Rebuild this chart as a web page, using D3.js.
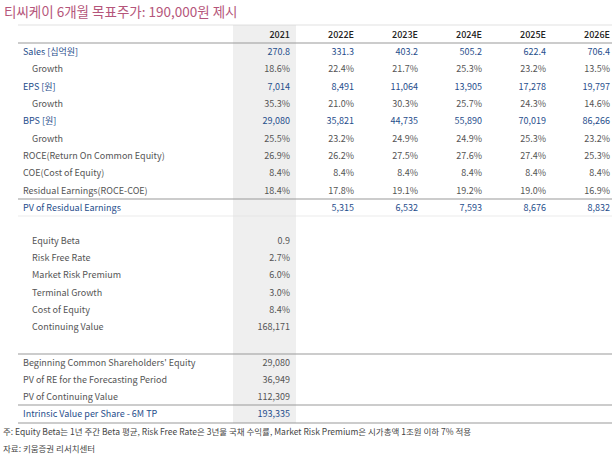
<!DOCTYPE html>
<html><head><meta charset="utf-8">
<script src="https://cdn.jsdelivr.net/npm/d3@7"></script>
<style>body{margin:0;background:#fff}text{font-family:"Noto Sans CJK KR","Noto Sans",sans-serif}</style>
</head><body>
<script>
var years = ["2021", "2022E", "2023E", "2024E", "2025E", "2026E"];
var rowLabels = ["Sales [십억원]", "Growth", "EPS [원]", "Growth", "BPS [원]", "Growth",
  "ROCE(Return On Common Equity)", "COE(Cost of Equity)", "Residual Earnings(ROCE-COE)", "PV of Residual Earnings"];
var rowValues = [
  ["270.8", "331.3", "403.2", "505.2", "622.4", "706.4"],
  ["18.6%", "22.4%", "21.7%", "25.3%", "23.2%", "13.5%"],
  ["7,014", "8,491", "11,064", "13,905", "17,278", "19,797"],
  ["35.3%", "21.0%", "30.3%", "25.7%", "24.3%", "14.6%"],
  ["29,080", "35,821", "44,735", "55,890", "70,019", "86,266"],
  ["25.5%", "23.2%", "24.9%", "24.9%", "25.3%", "23.2%"],
  ["26.9%", "26.2%", "27.5%", "27.6%", "27.4%", "25.3%"],
  ["8.4%", "8.4%", "8.4%", "8.4%", "8.4%", "8.4%"],
  ["18.4%", "17.8%", "19.1%", "19.2%", "19.0%", "16.9%"],
  ["", "5,315", "6,532", "7,593", "8,676", "8,832"]];
var blueRows = [0, 2, 4, 9];
var indentRows = [1, 3, 5];
var assumpLabels = ["Equity Beta", "Risk Free Rate", "Market Risk Premium", "Terminal Growth", "Cost of Equity", "Continuing Value"];
var assumpValues = ["0.9", "2.7%", "6.0%", "3.0%", "8.4%", "168,171"];
var sumLabels = ["Beginning Common Shareholders' Equity", "PV of RE for the Forecasting Period", "PV of Continuing Value", "Intrinsic Value per Share - 6M TP"];
var sumValues = ["29,080", "36,949", "112,309", "193,335"];
var notes = ["주: Equity Beta는 1년 주간 Beta 평균, Risk Free Rate은 3년물 국채 수익률, Market Risk Premium은 시가총액 1조원 이하 7% 적용", "자료: 키움증권 리서치센터"];

var W = 616, H = 461, blue = "#1f4e8c", grey = "#555";
var svg = d3.select("body").append("svg").attr("width", W).attr("height", H);
var x = d3.scalePoint().domain(years).range([290, 610]);
var yMain = d3.scaleLinear().domain([0, 9]).range([52, 208]);
var yA = d3.scaleLinear().domain([0, 5]).range([241, 327]);
var yS = d3.scaleLinear().domain([0, 3]).range([363, 414]);

svg.append("rect").attr("x", 233).attr("y", 25).attr("width", 63).attr("height", 398).attr("fill", "#efefef");
svg.append("text").attr("x", 4).attr("y", 17).attr("font-size", 13.5).attr("fill", "#b5557a").text("티씨케이 6개월 목표주가: 190,000원 제시");

function line(y, c, w) {
  svg.append("line").attr("x1", 18).attr("x2", 612).attr("y1", y).attr("y2", y).attr("stroke", c).attr("stroke-width", w);
}
line(25, "#ccc", 0.6); line(43, "#999", 1.2); line(199, "#999", 1.2); line(216, "#ddd", 0.6);
line(354, "#999", 1); line(405, "#999", 1); line(423, "#999", 1);

svg.selectAll(".yr").data(years).enter().append("text").attr("x", d => x(d)).attr("y", 38)
  .attr("text-anchor", "end").attr("font-size", 9).attr("font-weight", 500).attr("fill", "#222").text(d => d);

rowLabels.forEach(function(lab, i) {
  var b = blueRows.indexOf(i) >= 0, ind = indentRows.indexOf(i) >= 0;
  var c = b ? blue : grey;
  svg.append("text").attr("x", ind ? 32 : 23).attr("y", yMain(i) + 3).attr("font-size", 9).attr("fill", c).text(lab);
  svg.selectAll(null).data(rowValues[i]).enter().append("text")
    .attr("x", (d, j) => x(years[j])).attr("y", yMain(i) + 3).attr("text-anchor", "end")
    .attr("font-size", 9).attr("fill", c).text(d => d);
});
assumpLabels.forEach(function(lab, i) {
  svg.append("text").attr("x", 32).attr("y", yA(i) + 3).attr("font-size", 9).attr("fill", grey).text(lab);
  svg.append("text").attr("x", x("2021")).attr("y", yA(i) + 3).attr("text-anchor", "end").attr("font-size", 9).attr("fill", grey).text(assumpValues[i]);
});
sumLabels.forEach(function(lab, i) {
  var c = i == 3 ? blue : grey;
  svg.append("text").attr("x", 23).attr("y", yS(i) + 3).attr("font-size", 9).attr("fill", c).text(lab);
  svg.append("text").attr("x", x("2021")).attr("y", yS(i) + 3).attr("text-anchor", "end").attr("font-size", 9).attr("fill", c).text(sumValues[i]);
});
notes.forEach(function(n, i) {
  svg.append("text").attr("x", 3).attr("y", 435 + i * 17).attr("font-size", 8.5).attr("fill", "#444").text(n);
});
</script>
</body></html>
